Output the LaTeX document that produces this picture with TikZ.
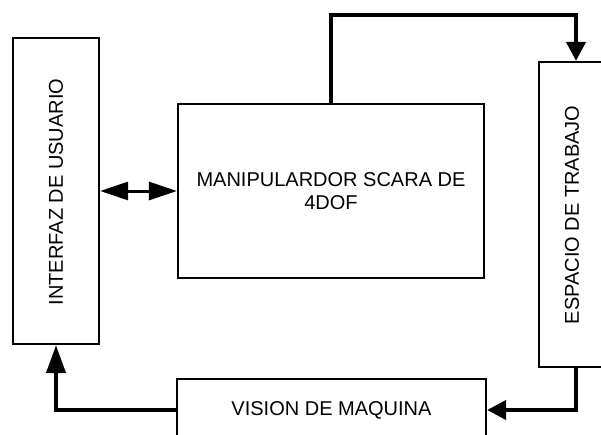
\documentclass[tikz,border=0pt]{standalone}
\usepackage{fontspec}
\setmainfont{Liberation Sans}
\usetikzlibrary{arrows.meta, positioning}

\begin{document}
\begin{tikzpicture}[
    x=1pt, y=-1pt,
    blk/.style   = {draw, line width=2.2pt, inner sep=0pt},
    lbl/.style   = {font=\fontsize{20}{23}\selectfont, align=center},
    vlbl/.style  = {font=\fontsize{20}{23}\selectfont, rotate=90},
    arr/.style   = {line width=4pt, -{Triangle[length=19pt, width=19pt]}},
    uparr/.style = {line width=4pt, -{Triangle[length=28pt, width=19pt]}},
    biarr/.style = {line width=3pt, {Triangle[length=28pt, width=18pt]}-{Triangle[length=28pt, width=18pt]}},
  ]
    \useasboundingbox (0,0) rectangle (601,434);
    \clip (0,0) rectangle (601,434);

    % --- blocks ---
    \node[blk, minimum width=86pt, minimum height=306pt] (ui) at (56,191) {};
    \node[vlbl] (uitxt) at (56,192) {INTERFAZ DE USUARIO};

    \node[blk, lbl, minimum width=306pt, minimum height=174pt] (man) at (331,191)
      {MANIPULARDOR SCARA DE\\4DOF};

    \node[blk, minimum width=74pt, minimum height=305pt] (esp) at (576,214.5) {};
    \node[vlbl] (esptxt) at (572,215) {ESPACIO DE TRABAJO};

    \node[blk, lbl, minimum width=309pt, minimum height=62pt] (vis) at (331.5,410)
      {VISION DE MAQUINA};

    % --- connectors ---
    \coordinate (top) at (450,15);

    \draw[biarr] (ui.east |- man.west) -- (man.west);
    \draw[arr] (man.north) -- (man.north |- top) -| (esp.north);
    \draw[arr] (esp.south) |- (vis.east);
    \draw[uparr] (vis.west) -| (ui.south);

  \end{tikzpicture}
\end{document}
